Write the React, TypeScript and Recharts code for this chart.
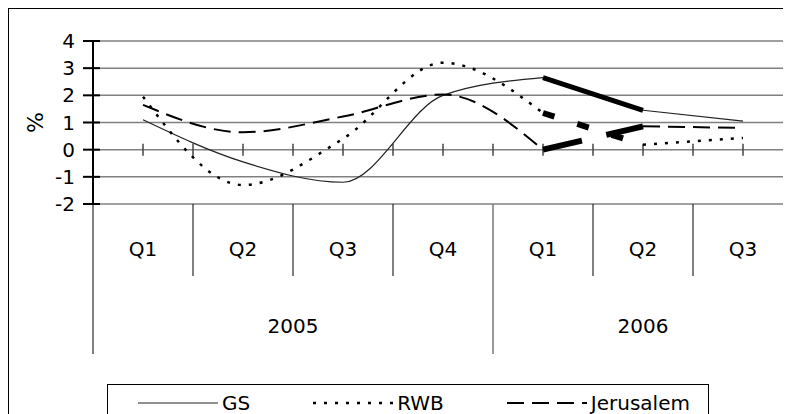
import React from 'react';
import { LineChart, Line, XAxis, YAxis, CartesianGrid, ReferenceLine } from 'recharts';

const QUARTERS = ['Q1', 'Q2', 'Q3', 'Q4', 'Q1', 'Q2', 'Q3'];
const YEARS = ['2005', '2005', '2005', '2005', '2006', '2006', '2006'];

const GS = [1.1, -0.45, -1.2, 2.0, 2.65, 1.45, 1.05];
const RWB = [1.95, -1.3, 0.4, 3.2, 1.35, 0.18, 0.43];
const JERUSALEM = [1.65, 0.64, 1.22, 2.03, 0.0, 0.86, 0.8];

const Y_TICKS = [-2, -1, 0, 1, 2, 3, 4];

// the stretch between these two quarters is drawn heavy
const BOLD_FROM = 4;
const BOLD_TO = 5;

const FONT = '"DejaVu Sans", sans-serif';
const TEXT_SIZE = 20;

const SERIES = [
  { key: 'gs', name: 'GS', values: GS, stroke: '#222', width: 1.2, dash: undefined, boldWidth: 5, boldDash: undefined },
  { key: 'rwb', name: 'RWB', values: RWB, stroke: '#000', width: 2.5, dash: '3 8', boldWidth: 6, boldDash: '12 24' },
  { key: 'jer', name: 'Jerusalem', values: JERUSALEM, stroke: '#000', width: 2, dash: '17 8', boldWidth: 6, boldDash: '40 25' },
];

const rows = QUARTERS.map((q, i) => {
  const row: Record<string, number | string | null> = { pos: i + 0.5, quarter: q, year: YEARS[i] };
  SERIES.forEach((s) => {
    row[s.key + 'Early'] = i <= BOLD_FROM ? s.values[i] : null;
    row[s.key + 'Bold'] = i >= BOLD_FROM && i <= BOLD_TO ? s.values[i] : null;
    row[s.key + 'Late'] = i >= BOLD_TO ? s.values[i] : null;
  });
  return row;
});

const positions = rows.map((r) => r.pos as number);
// small marks along the zero line: category centres and the borders between them
const zeroMarks = QUARTERS.flatMap((_, i) => (i < QUARTERS.length - 1 ? [i + 0.5, i + 1] : [i + 0.5]));

function YTick({ x, y, payload }: any) {
  return (
    <g>
      <line x1={x + 8} x2={x + 25} y1={y} y2={y} stroke="#000" strokeWidth={2} />
      <text x={x} y={y} textAnchor="end" dominantBaseline="central" fontSize={TEXT_SIZE} fill="#000">
        {payload.value}
      </text>
    </g>
  );
}

// two-level category labels: quarter boxes and year boxes underneath
function CategoryTick({ x, y, index, width }: any) {
  const band = (width || 700) / QUARTERS.length;
  const year = YEARS[index];
  const lastOfYear = YEARS[index + 1] !== year;
  const firstOfYear = index === 0 || YEARS[index - 1] !== year;
  const count = YEARS.filter((v) => v === year).length;
  return (
    <g>
      {index === 0 && <line x1={x - band / 2} x2={x - band / 2} y1={y} y2={y + 150} stroke="#000" strokeWidth={1} />}
      {lastOfYear ? (
        <line x1={x + band / 2} x2={x + band / 2} y1={y} y2={y + 150} stroke="#777" strokeWidth={1.5} />
      ) : (
        <line x1={x + band / 2} x2={x + band / 2} y1={y} y2={y + 72} stroke="#000" strokeWidth={1} />
      )}
      <text x={x} y={y + 45} textAnchor="middle" dominantBaseline="central" fontSize={TEXT_SIZE} fill="#000">
        {QUARTERS[index]}
      </text>
      {firstOfYear && (
        <text x={x + ((count - 1) / 2) * band} y={y + 122} textAnchor="middle" dominantBaseline="central" fontSize={TEXT_SIZE} fill="#000">
          {year}
        </text>
      )}
    </g>
  );
}

function LegendSample({ s }: any) {
  return (
    <svg width={80} height={10} style={{ display: 'block' }}>
      <line x1={0} x2={80} y1={5} y2={5} stroke={s.stroke} strokeWidth={s.width} strokeDasharray={s.dash} />
    </svg>
  );
}

export default function App() {
  return (
    <div style={{ position: 'relative', width: 783, height: 406, overflow: 'hidden', fontFamily: FONT, background: '#fff' }}>
      <style>{'html,body{overflow:hidden}'}</style>
      <div style={{ position: 'absolute', left: 0, top: 0, width: 900, height: 500, borderLeft: '1.5px solid #000', borderTop: '1.5px solid #000' }} />
      <div style={{ position: 'absolute', left: 0, top: 0 }}>
        <LineChart width={800} height={346} data={rows} margin={{ top: 33, right: 15, bottom: 0, left: 0 }}>
          <CartesianGrid vertical={false} stroke="#808080" strokeWidth={1.5} />
          <XAxis
            type="number"
            dataKey="pos"
            domain={[0, QUARTERS.length]}
            ticks={positions}
            interval={0}
            axisLine={false}
            tickLine={false}
            tickSize={0}
            tickMargin={0}
            height={150}
            tick={(props: any) => <CategoryTick {...props} />}
          />
          <YAxis
            domain={[-2, 4]}
            ticks={Y_TICKS}
            interval={0}
            width={85}
            axisLine={{ stroke: '#000', strokeWidth: 2 }}
            tickLine={false}
            tickSize={10}
            tickMargin={8}
            tick={(props: any) => <YTick {...props} />}
            label={{
              value: '%',
              content: ({ viewBox }: any) => (
                <text
                  x={viewBox.x + 27}
                  y={viewBox.y + viewBox.height / 2}
                  transform={`rotate(-90 ${viewBox.x + 27} ${viewBox.y + viewBox.height / 2})`}
                  textAnchor="middle"
                  dominantBaseline="central"
                  fontSize={22}
                  fill="#000"
                >
                  %
                </text>
              ),
            }}
          />
          {zeroMarks.map((m) => (
            <ReferenceLine
              key={m}
              segment={[{ x: m, y: -0.22 }, { x: m, y: 0.22 }]}
              stroke="#444"
              strokeWidth={1.5}
              ifOverflow="visible"
            />
          ))}
          {SERIES.map((s) => (
            <Line
              key={s.key + 'Early'}
              type="monotone"
              dataKey={s.key + 'Early'}
              stroke={s.stroke}
              strokeWidth={s.width}
              strokeDasharray={s.dash}
              dot={false}
              activeDot={false}
              isAnimationActive={false}
            />
          ))}
          {SERIES.map((s) => (
            <Line
              key={s.key + 'Late'}
              type="monotone"
              dataKey={s.key + 'Late'}
              stroke={s.stroke}
              strokeWidth={s.width}
              strokeDasharray={s.dash}
              dot={false}
              activeDot={false}
              isAnimationActive={false}
            />
          ))}
          {SERIES.map((s) => (
            <Line
              key={s.key + 'Bold'}
              type="monotone"
              dataKey={s.key + 'Bold'}
              stroke="#000"
              strokeWidth={s.boldWidth}
              strokeDasharray={s.boldDash}
              dot={false}
              activeDot={false}
              isAnimationActive={false}
            />
          ))}
        </LineChart>
      </div>
      <div
        style={{
          position: 'absolute',
          left: 99,
          top: 376,
          width: 602,
          height: 60,
          border: '1px solid #000',
          display: 'flex',
          alignItems: 'flex-start',
          paddingLeft: 30,
          boxSizing: 'border-box',
          fontSize: TEXT_SIZE,
        }}
      >
        {SERIES.map((s, i) => (
          <div key={s.key} style={{ display: 'flex', alignItems: 'center', marginLeft: i === 0 ? 0 : 63, height: 36 }}>
            <LegendSample s={s} />
            <span style={{ marginLeft: 4 }}>{s.name}</span>
          </div>
        ))}
      </div>
    </div>
  );
}
